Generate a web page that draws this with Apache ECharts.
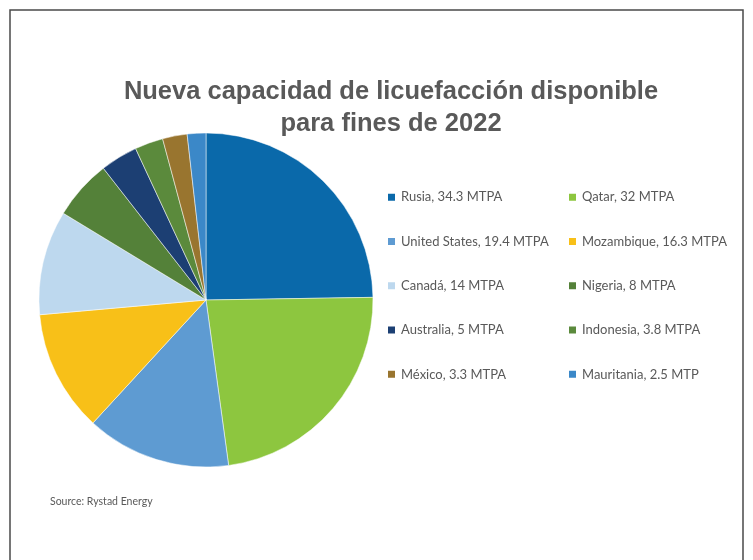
<!DOCTYPE html>
<html><head><meta charset="utf-8">
<script src="https://cdn.jsdelivr.net/npm/echarts@6/dist/echarts.min.js"></script>
<style>html,body{margin:0;padding:0;background:#fff}#c{width:753px;height:560px}</style>
</head><body><div id="c"></div>
<script>
const countries = ["Rusia","Qatar","United States","Mozambique","Canadá","Nigeria","Australia","Indonesia","México","Mauritania"];
const values = [34.3, 32, 19.4, 16.3, 14, 8, 5, 3.8, 3.3, 2.5];
const legendLabels = ["Rusia, 34.3 MTPA","Qatar, 32 MTPA","United States, 19.4 MTPA","Mozambique, 16.3 MTPA","Canadá, 14 MTPA","Nigeria, 8 MTPA","Australia, 5 MTPA","Indonesia, 3.8 MTPA","México, 3.3 MTPA","Mauritania, 2.5 MTP"];
const colors = ["#0a69aa","#8dc63f","#5e9bd2","#f8c018","#bdd8ee","#548139","#1c3f73","#5b8a3c","#99752f","#3b88c8"];
const titleLines = ["Nueva capacidad de licuefacción disponible","para fines de 2022"];
const sourceText = "Source: Rystad Energy";

const labelMap = {};
countries.forEach((c,i)=>labelMap[c]=legendLabels[i]);
const col1 = countries.filter((c,i)=>i%2===0);
const col2 = countries.filter((c,i)=>i%2===1);

const legendBase = {
  orient:'vertical', icon:'rect', itemWidth:9, itemHeight:9, itemGap:30, padding:0,
  top:190, selectedMode:false,
  formatter: n => labelMap[n],
  textStyle:{fontFamily:'Lato', fontSize:13, color:'#595959', lineHeight:14.3}
};

const chart = echarts.init(document.getElementById('c'), null, {renderer:'canvas'});
chart.setOption({
  animation:false,
  color: colors,
  title:{
    text: titleLines.join('\n'), top:71, left:386, textAlign:'center',
    textStyle:{fontFamily:'Liberation Sans', fontWeight:'bold', fontSize:25.5, color:'#595959', lineHeight:32}
  },
  legend:[
    Object.assign({}, legendBase, {left:386, data: col1}),
    Object.assign({}, legendBase, {left:567, data: col2})
  ],
  graphic:[
    {type:'polyline', shape:{points:[[10,600],[10,10],[743,10],[743,600]]}, style:{stroke:'#4a4a4a', lineWidth:1.5, fill:null}, silent:true},
    {type:'text', left:50, top:496, style:{text:sourceText, fontFamily:'Lato', fontSize:10.5, fill:'#595959'}}
  ],
  series:[{
    type:'pie', center:[206,300], radius:167, startAngle:90, clockwise:true,
    label:{show:false}, labelLine:{show:false},
    itemStyle:{borderColor:'#ffffff', borderWidth:0.5},
    emphasis:{disabled:true},
    data: countries.map((c,i)=>({name:c, value:values[i]}))
  }]
});
</script></body></html>
